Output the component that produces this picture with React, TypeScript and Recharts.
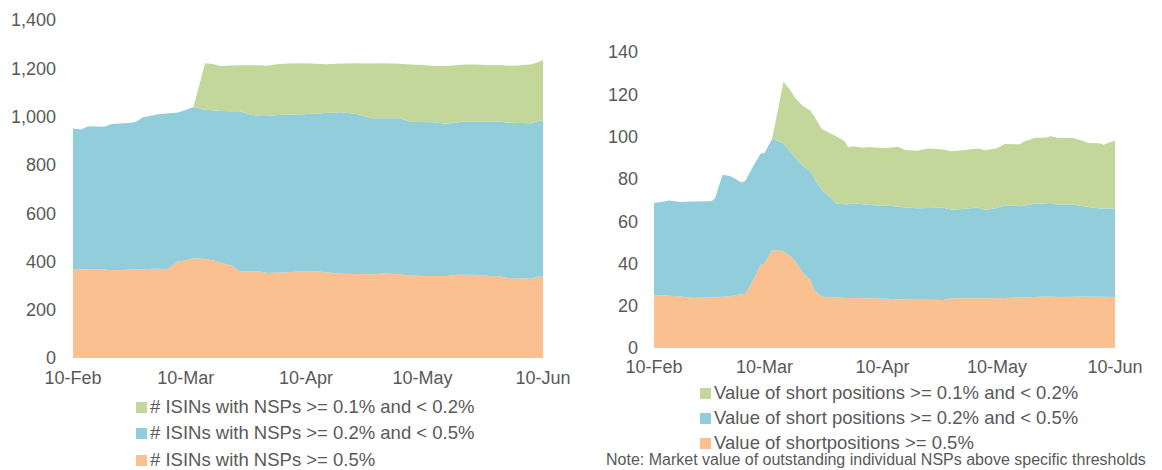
import React from "react"
import { AreaChart, Area, XAxis, YAxis } from "recharts"

// day offsets from 10-Feb (2020)
const TICK_DAYS = [0, 29, 60, 90, 121]
const TICK_LABELS = ["10-Feb", "10-Mar", "10-Apr", "10-May", "10-Jun"]

// left chart: number of ISINs
const LEFT_DAYS = [0, 2, 4, 8, 10, 14, 16, 18, 22, 24, 27, 29, 31, 34, 36, 38, 41, 43, 45, 48, 50, 53, 56, 59, 63, 65, 69, 73, 77, 80, 84, 87, 90, 93, 96, 99, 101, 104, 107, 110, 112, 115, 118, 120, 121]
const LEFT_HIGH = [364, 368, 368, 367, 363, 366, 367, 368, 371, 364, 400, 404, 413, 410, 405, 395, 382, 358, 358, 358, 352, 354, 355, 360, 358, 355, 349, 348, 347, 350, 347, 342, 340, 340, 340, 345, 345, 345, 340, 338, 331, 330, 328, 338, 336]
const LEFT_MID = [587, 578, 592, 591, 606, 607, 609, 629, 639, 649, 617, 623, 627, 618, 621, 628, 640, 664, 653, 644, 650, 652, 654, 650, 655, 660, 669, 663, 646, 643, 646, 635, 637, 636, 630, 631, 635, 635, 640, 642, 643, 643, 644, 645, 647]
const LEFT_LOW = [0, 0, 0, 0, 0, 0, 0, 0, 0, 0, 0, 0, 0, 193, 192, 186, 190, 191, 202, 211, 209, 212, 211, 211, 206, 202, 202, 210, 227, 228, 226, 239, 237, 233, 239, 237, 236, 236, 233, 234, 236, 239, 245, 244, 251]

// right chart: value of short positions
const RIGHT_DAYS = [0, 3, 4, 7, 10, 15, 16, 18, 20, 23, 24, 26, 28, 29, 31, 34, 36, 37, 39, 41, 42, 44, 48, 50, 51, 52, 55, 56, 58, 61, 64, 66, 69, 72, 76, 78, 81, 85, 87, 90, 92, 96, 97, 100, 103, 104, 106, 110, 112, 114, 117, 118, 121]
const RIGHT_HIGH = [24.9, 24.9, 24.7, 24.4, 23.8, 23.9, 24.0, 24.2, 24.5, 25.5, 25.7, 32.1, 39.2, 40.0, 46.3, 45.8, 43.0, 41.2, 35.7, 32.4, 27.7, 24.2, 23.9, 23.6, 23.6, 23.6, 23.5, 23.5, 23.4, 23.3, 23.0, 22.9, 22.8, 22.8, 22.7, 23.5, 23.5, 23.5, 23.5, 23.5, 23.6, 23.9, 23.9, 24.1, 24.4, 24.4, 24.1, 24.2, 24.4, 24.3, 24.2, 24.2, 24.1]
const RIGHT_MID = [43.7, 44.5, 45.1, 44.6, 45.5, 45.5, 46.7, 57.8, 56.8, 52.8, 53.4, 53.7, 52.8, 52.2, 52.5, 51.1, 49.4, 48.9, 50.6, 51.2, 52.8, 50.6, 44.3, 44.4, 44.4, 44.9, 44.5, 44.3, 44.1, 44.0, 43.9, 43.6, 43.3, 43.4, 43.6, 41.9, 42.3, 42.9, 41.8, 42.7, 43.9, 43.2, 43.4, 44.1, 44.1, 44.2, 43.6, 43.6, 42.9, 42.4, 41.8, 41.8, 41.9]
const RIGHT_LOW = [0, 0, 0, 0, 0, 0, 0, 0, 0, 0, 0, 0, 0, 0, 0, 29.1, 28.9, 28.3, 28.3, 28.7, 29.2, 28.9, 31.7, 29.9, 26.8, 26.9, 26.7, 27.3, 27.3, 27.3, 28.3, 27.2, 27.2, 28.2, 27.6, 27.7, 27.7, 27.9, 28.2, 28.3, 29.0, 29.3, 30.2, 31.2, 31.1, 31.5, 31.7, 31.5, 31.0, 30.3, 30.8, 30.1, 32.1]

const LEFT_LEGEND = [
  "# ISINs with NSPs >= 0.1% and < 0.2%",
  "# ISINs with NSPs >= 0.2% and < 0.5%",
  "# ISINs with NSPs >= 0.5%",
]
const RIGHT_LEGEND = [
  "Value of short positions >= 0.1% and < 0.2%",
  "Value of short positions >= 0.2% and < 0.5%",
  "Value of shortpositions >= 0.5%",
]
const NOTE = "Note: Market value of outstanding individual NSPs above specific thresholds"

const GREEN = "#C4D79B"
const BLUE = "#92CDDC"
const ORANGE = "#FAC090"
const TEXT = "#595959"
const FONT = '"Liberation Sans", Arial, sans-serif'

const leftData = LEFT_DAYS.map((d, i) => ({ day: d, high: LEFT_HIGH[i], mid: LEFT_MID[i], low: LEFT_LOW[i] }))
const rightData = RIGHT_DAYS.map((d, i) => ({ day: d, high: RIGHT_HIGH[i], mid: RIGHT_MID[i], low: RIGHT_LOW[i] }))

const tickFmt = (v: number) => TICK_LABELS[TICK_DAYS.indexOf(v)] ?? ""
const tickStyle = { fill: TEXT, fontSize: 18, fontFamily: FONT }

function Legend({ items, left, rows }: { items: string[]; left: number; rows: number[] }) {
  const colors = [GREEN, BLUE, ORANGE]
  return (
    <>
      {items.map((t, i) => (
        <div
          key={t}
          style={{
            position: "absolute",
            left,
            top: rows[i] - 11,
            height: 22,
            lineHeight: "22px",
            display: "flex",
            alignItems: "center",
            whiteSpace: "nowrap",
            color: TEXT,
            fontSize: 18.5,
            fontFamily: FONT,
          }}
        >
          <span style={{ width: 11, height: 11, background: colors[i], marginRight: 3, display: "inline-block" }} />
          {t}
        </div>
      ))}
    </>
  )
}

export default function App() {
  return (
    <div style={{ position: "fixed", left: 0, top: 0, width: 1162, height: 470, overflow: "hidden", background: "#fff" }}>
      <div style={{ position: "absolute", left: 0, top: 0 }}>
        <AreaChart width={580} height={390} data={leftData} margin={{ top: 20, right: 37, left: 0, bottom: 0 }}>
          <XAxis
            dataKey="day"
            type="number"
            domain={[0, 121]}
            ticks={TICK_DAYS}
            tickFormatter={tickFmt}
            axisLine={false}
            tickLine={false}
            tickSize={0}
            tickMargin={13}
            height={32}
            tick={tickStyle}
            interval={0}
          />
          <YAxis
            domain={[0, 1400]}
            ticks={[0, 200, 400, 600, 800, 1000, 1200, 1400]}
            tickFormatter={(v: number) => v.toLocaleString("en-US")}
            axisLine={false}
            tickLine={false}
            tickSize={0}
            tickMargin={17}
            width={73}
            tick={tickStyle}
          />
          <Area type="linear" dataKey="high" stackId="a" stroke="none" fill={ORANGE} fillOpacity={1} isAnimationActive={false} />
          <Area type="linear" dataKey="mid" stackId="a" stroke="none" fill={BLUE} fillOpacity={1} isAnimationActive={false} />
          <Area type="linear" dataKey="low" stackId="a" stroke="none" fill={GREEN} fillOpacity={1} isAnimationActive={false} />
        </AreaChart>
      </div>
      <div style={{ position: "absolute", left: 580, top: 0 }}>
        <AreaChart width={582} height={380} data={rightData} margin={{ top: 52, right: 47, left: 0, bottom: 0 }}>
          <XAxis
            dataKey="day"
            type="number"
            domain={[0, 121]}
            ticks={TICK_DAYS}
            tickFormatter={tickFmt}
            axisLine={false}
            tickLine={false}
            tickSize={0}
            tickMargin={12}
            height={32}
            tick={tickStyle}
            interval={0}
          />
          <YAxis
            domain={[0, 140]}
            ticks={[0, 20, 40, 60, 80, 100, 120, 140]}
            axisLine={false}
            tickLine={false}
            tickSize={0}
            tickMargin={16}
            width={74}
            tick={tickStyle}
          />
          <Area type="linear" dataKey="high" stackId="b" stroke="none" fill={ORANGE} fillOpacity={1} isAnimationActive={false} />
          <Area type="linear" dataKey="mid" stackId="b" stroke="none" fill={BLUE} fillOpacity={1} isAnimationActive={false} />
          <Area type="linear" dataKey="low" stackId="b" stroke="none" fill={GREEN} fillOpacity={1} isAnimationActive={false} />
        </AreaChart>
      </div>
      <Legend items={LEFT_LEGEND} left={136} rows={[407, 433, 460]} />
      <Legend items={RIGHT_LEGEND} left={700} rows={[393, 418, 443]} />
      <div
        style={{
          position: "absolute",
          left: 606,
          top: 451,
          whiteSpace: "nowrap",
          color: TEXT,
          fontSize: 16,
          lineHeight: "18px",
          fontFamily: FONT,
        }}
      >
        {NOTE}
      </div>
    </div>
  )
}
